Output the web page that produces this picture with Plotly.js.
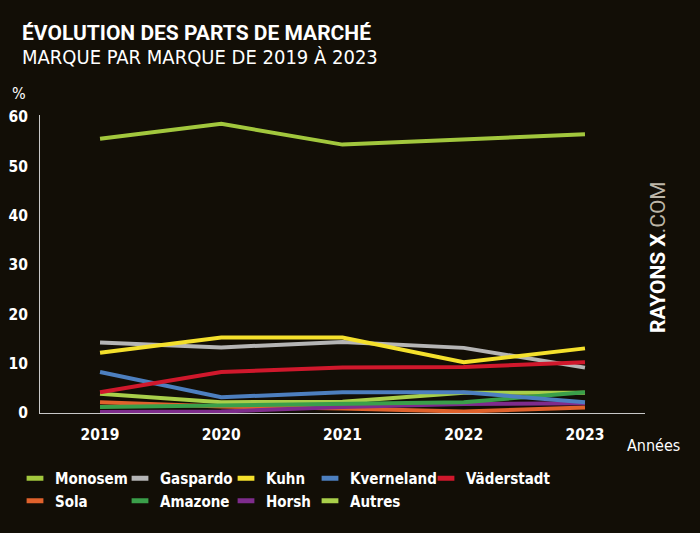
<!DOCTYPE html>
<html>
<head>
<meta charset="utf-8">
<script src="https://cdn.plot.ly/plotly-3.0.1.min.js"></script>
<style>
html,body{margin:0;padding:0;background:#120e06;}
#chart{width:700px;height:533px;}
</style>
</head>
<body>
<div id="chart"></div>
<script>
const years = [2019, 2020, 2021, 2022, 2023];
const yearLabels = ['2019', '2020', '2021', '2022', '2023'];

const monosem    = [55.6, 58.6, 54.4, 55.5, 56.5];
const gaspardo   = [14.3, 13.3, 14.4, 13.2, 9.2];
const kuhn       = [12.2, 15.3, 15.3, 10.3, 13.1];
const kverneland = [8.3, 3.2, 4.2, 4.2, 2.2];
const vaderstadt = [4.2, 8.3, 9.2, 9.3, 10.3];
const sola       = [2.2, 1.3, 0.9, 0.3, 1.1];
const amazone    = [1.2, 1.5, 2.0, 2.2, 4.2];
const horsh      = [0.2, 0.3, 1.2, 1.8, 2.0];
const autres     = [3.9, 2.2, 2.3, 4.1, 4.1];

const seriesNames = ['Monosem', 'Gaspardo', 'Kuhn', 'Kverneland', 'Väderstadt', 'Sola', 'Amazone', 'Horsh', 'Autres'];
const seriesValues = [monosem, gaspardo, kuhn, kverneland, vaderstadt, sola, amazone, horsh, autres];
const seriesColors = ['#a2c73d', '#b5b5b5', '#f4e02c', '#4d7fbf', '#d0182c', '#e0622c', '#3a9f4a', '#7e2c8c', '#a9cf4a'];
const legendCols = ['legend', 'legend2', 'legend3', 'legend4', 'legend5', 'legend', 'legend2', 'legend3', 'legend4'];
const drawOrder = [8, 5, 7, 6, 3, 1, 4, 2, 0];

const narrow = '"Noto Sans ExtraCondensed", "Noto Sans Condensed", "Liberation Sans Narrow", "DejaVu Sans Condensed", sans-serif';

const traces = [];
drawOrder.forEach(i => {
  traces.push({
    type: 'scatter', mode: 'lines', x: years, y: seriesValues[i], name: seriesNames[i],
    line: {color: seriesColors[i], width: 4}, showlegend: false
  });
});
seriesNames.forEach((n, i) => {
  traces.push({
    type: 'scatter', mode: 'markers', x: [null], y: [null], name: n,
    legend: legendCols[i], legendrank: i,
    marker: {symbol: 'line-ew', size: 12, color: seriesColors[i], line: {color: seriesColors[i], width: 5}},
    showlegend: true, hoverinfo: 'skip'
  });
});

// plot area in pixels: left 40, right 645, top 115, bottom 413
const PL = 40, PW = 605, PB = 413, PH = 298;
const px2x = p => (p - PL) / PW;
const px2y = p => (PB - p) / PH;

const legendFont = {family: narrow, size: 15, color: '#ffffff', weight: 'bold'};
const colTextX = [55, 160, 266, 350, 466];
const legendTop = 462;
function mkLegend(k) {
  return {
    xref: 'paper', yref: 'paper',
    x: px2x(colTextX[k] - 40), xanchor: 'left',
    y: px2y(legendTop), yanchor: 'top',
    orientation: 'v', bgcolor: 'rgba(0,0,0,0)', borderwidth: 0,
    font: legendFont, tracegroupgap: 0
  };
}

const layout = {
  width: 700, height: 533,
  paper_bgcolor: '#120e06', plot_bgcolor: '#120e06',
  margin: {l: 40, r: 55, t: 115, b: 120, autoexpand: false},
  title: {
    text: '<b>ÉVOLUTION DES PARTS DE MARCHÉ</b>',
    font: {family: 'Roboto, "Open Sans", sans-serif', size: 21, color: '#ffffff'},
    x: 22 / 700, xanchor: 'left', xref: 'container',
    y: 1 - 25 / 533, yanchor: 'top', yref: 'container'
  },
  xaxis: {
    range: [2018.505, 2023.495], tickvals: years, ticktext: yearLabels,
    showgrid: false, zeroline: false, showline: true, linecolor: '#c8c8c8', linewidth: 1,
    ticks: '', ticklabelstandoff: 7, fixedrange: true,
    tickfont: {family: narrow, size: 15.5, color: '#ffffff', weight: 'bold'}
  },
  yaxis: {
    range: [0, 60.4], tickvals: [0, 10, 20, 30, 40, 50, 60],
    showgrid: false, zeroline: false, showline: true, linecolor: '#c8c8c8', linewidth: 1,
    ticks: '', ticklabelstandoff: 8, fixedrange: true,
    tickfont: {family: narrow, size: 15.5, color: '#ffffff', weight: 'bold'}
  },
  legend: mkLegend(0), legend2: mkLegend(1), legend3: mkLegend(2), legend4: mkLegend(3), legend5: mkLegend(4),
  annotations: [
    {text: 'MARQUE PAR MARQUE DE 2019 À 2023', xref: 'paper', yref: 'paper',
     x: px2x(20), y: px2y(57), xanchor: 'left', yanchor: 'middle', showarrow: false,
     font: {family: narrow, size: 20, color: '#ffffff'}},
    {text: '%', xref: 'paper', yref: 'paper', x: px2x(19), y: px2y(93), xanchor: 'center', yanchor: 'middle',
     showarrow: false, font: {family: narrow, size: 16, color: '#ffffff'}},
    {text: 'Années', xref: 'paper', yref: 'paper', x: px2x(653), y: px2y(445), xanchor: 'center', yanchor: 'middle',
     showarrow: false, font: {family: narrow, size: 16, color: '#ffffff'}},
    {text: '<b>RAYONS X</b><span style="color:#bdb6a8">.COM</span>', xref: 'paper', yref: 'paper',
     x: px2x(658), y: px2y(257), xanchor: 'center', yanchor: 'middle', textangle: -90,
     showarrow: false, font: {family: 'Roboto, sans-serif', size: 21, color: '#ffffff'}}
  ],
  showlegend: true
};

Plotly.newPlot('chart', traces, layout, {displayModeBar: false, staticPlot: true});
</script>
</body>
</html>
